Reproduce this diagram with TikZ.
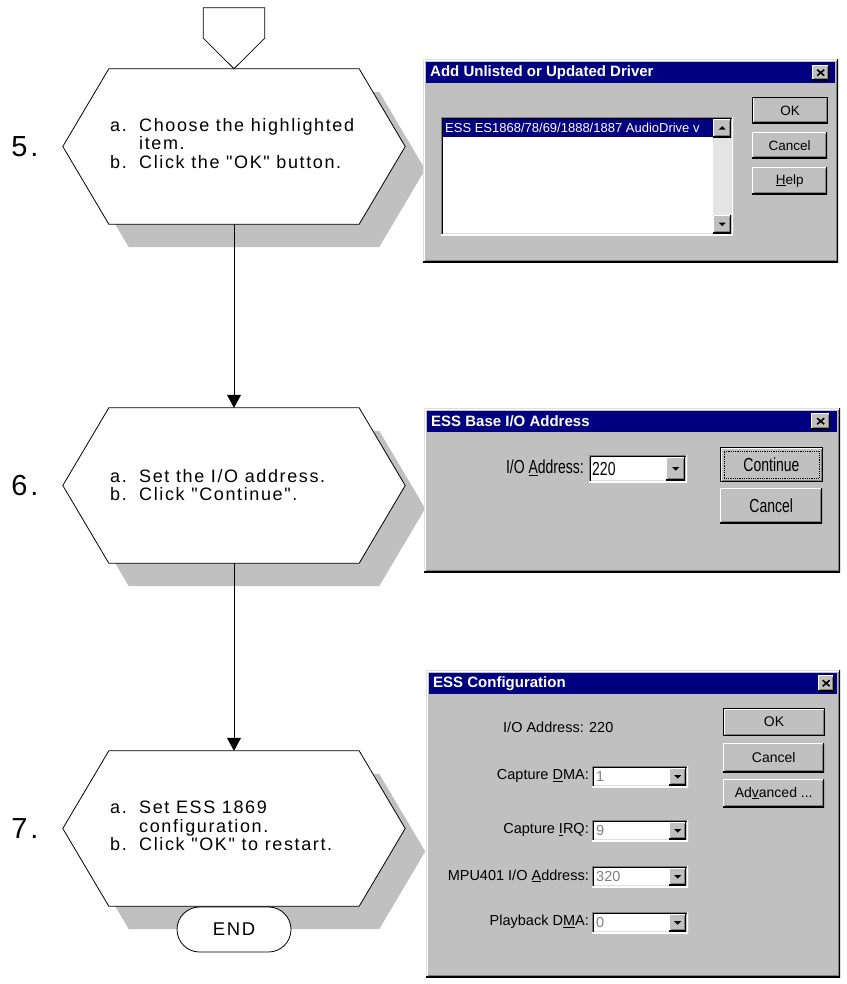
\documentclass[tikz,border=0pt]{standalone}
\usepackage{fontspec}
\usepackage{graphicx}
\usetikzlibrary{shapes.misc,arrows.meta,positioning}
\setmainfont{Liberation Sans}
\newfontfamily\flowfont[LetterSpace=9]{Liberation Sans}
\newfontfamily\numfont[LetterSpace=10]{Liberation Sans}
\newfontfamily\winfont{Liberation Sans}

\definecolor{wingray}{HTML}{C0C0C0}
\definecolor{windark}{HTML}{808080}
\definecolor{winlight}{HTML}{DFDFDF}
\definecolor{winnavy}{HTML}{000080}
\definecolor{wintrack}{HTML}{E4E4E4}
\definecolor{shadowgray}{HTML}{C0C0C0}

\newcommand{\stepline}[2]{\makebox[29pt][l]{#1}#2}
\newcommand{\tall}[1]{\scalebox{1}[1.35]{#1}}
\newcommand{\hexpath}[1]{(#1.west) -- ([xshift=46pt]#1.north west) -- ([xshift=-46pt]#1.north east) -- (#1.east) -- ([xshift=-46pt]#1.south east) -- ([xshift=46pt]#1.south west) -- cycle}

% 3D edges of window parts
\newcommand{\frameedges}{%
  \draw[winlight, line width=2pt] (path picture bounding box.south west) |- (path picture bounding box.north east);
  \draw[black, line width=2pt] (path picture bounding box.south west) -| (path picture bounding box.north east);
  \draw[white, line width=1pt] ([shift={(1.5pt,1.5pt)}]path picture bounding box.south west) |- ([shift={(-1.5pt,-1.5pt)}]path picture bounding box.north east);
  \draw[windark, line width=1pt] ([shift={(1.5pt,1.5pt)}]path picture bounding box.south west) -| ([shift={(-1.5pt,-1.5pt)}]path picture bounding box.north east);}
\newcommand{\btnedges}{%
  \draw[white, line width=2pt] (path picture bounding box.south west) |- (path picture bounding box.north east);
  \draw[black, line width=2pt] (path picture bounding box.south west) -| (path picture bounding box.north east);
  \draw[windark, line width=1pt] ([shift={(1.5pt,1.5pt)}]path picture bounding box.south west) -| ([shift={(-1.5pt,-1.5pt)}]path picture bounding box.north east);}
\newcommand{\fieldedges}{%
  \draw[windark, line width=2pt] (path picture bounding box.south west) |- (path picture bounding box.north east);
  \draw[white, line width=2pt] (path picture bounding box.south west) -| (path picture bounding box.north east);
  \draw[black, line width=1pt] ([shift={(1.5pt,1.5pt)}]path picture bounding box.south west) |- ([shift={(-1.5pt,-1.5pt)}]path picture bounding box.north east);
  \draw[winlight, line width=1pt] ([shift={(1.5pt,1.5pt)}]path picture bounding box.south west) -| ([shift={(-1.5pt,-1.5pt)}]path picture bounding box.north east);}
\newcommand{\downtip}{%
  \fill[black] ([shift={(-3.5pt,1.5pt)}]path picture bounding box.center) -- ([shift={(3.5pt,1.5pt)}]path picture bounding box.center) -- ([shift={(0pt,-2pt)}]path picture bounding box.center) -- cycle;}
\newcommand{\uptip}{%
  \fill[black] ([shift={(-3.5pt,-1.5pt)}]path picture bounding box.center) -- ([shift={(3.5pt,-1.5pt)}]path picture bounding box.center) -- ([shift={(0pt,2pt)}]path picture bounding box.center) -- cycle;}
\newcommand{\closecross}{%
  \draw[black, line width=1.6pt] ([shift={(-3.5pt,-3pt)}]path picture bounding box.center) -- ([shift={(3.5pt,3pt)}]path picture bounding box.center)
    ([shift={(-3.5pt,3pt)}]path picture bounding box.center) -- ([shift={(3.5pt,-3pt)}]path picture bounding box.center);}

\begin{document}
\begin{tikzpicture}[x=1pt, y=-1pt,
    hexbox/.style={rectangle, minimum width=342pt, minimum height=155pt, inner sep=0pt},
    hexline/.style={draw=black, line width=0.8pt, fill=white},
    steptext/.style={align=left, inner sep=0pt, anchor=west, font=\flowfont\fontsize{18pt}{18.5pt}\selectfont},
    stepnum/.style={inner sep=0pt, font=\numfont\fontsize{29pt}{29pt}\selectfont},
    flowarrow/.style={-{Triangle[length=13pt,width=14pt]}, line width=0.8pt},
    endbox/.style={rounded rectangle, draw=black, line width=0.8pt, fill=white, minimum width=114pt, minimum height=45pt, inner sep=0pt, font=\flowfont\fontsize{18.5pt}{18.5pt}\selectfont},
    winframe/.style={rectangle, anchor=north west, inner sep=0pt, fill=wingray, path picture={\frameedges}},
    wintitle/.style={rectangle, anchor=north west, inner sep=0pt, fill=winnavy},
    titletext/.style={anchor=west, inner sep=0pt, text=white, font=\winfont\bfseries\fontsize{15pt}{15pt}\selectfont},
    winbtn/.style={rectangle, anchor=north west, inner sep=0pt, fill=wingray, path picture={\btnedges}},
    winbtndef/.style={winbtn, draw=black, line width=1pt},
    winfield/.style={rectangle, anchor=north west, inner sep=0pt, fill=white, path picture={\fieldedges}},
    ddbtn/.style={winbtn, path picture={\btnedges\downtip}},
    upbtn/.style={winbtn, path picture={\btnedges\uptip}},
    xbtn/.style={winbtn, path picture={\btnedges\closecross}},
    wintext/.style={inner sep=0pt, font=\winfont\fontsize{14.5pt}{14.5pt}\selectfont},
    winvalue/.style={wintext, anchor=west, text=windark}
]
\useasboundingbox (0,0) rectangle (846,984);

% Flow boxes
\node[hexbox] (s5) at (234,146.5) {};
\node[hexbox] (s6) at (234,485.5) {};
\node[hexbox] (s7) at (234,828.5) {};
\node[rectangle, minimum width=61pt, minimum height=30pt, inner sep=0pt] (start) at (234,23) {};

% Shadows
\begin{scope}[transform canvas={shift={(20pt,-23pt)}}]
\fill[shadowgray] \hexpath{s5};
\fill[shadowgray] \hexpath{s6};
\fill[shadowgray] \hexpath{s7};
\end{scope}

\path[hexline] \hexpath{s5};
\path[hexline] \hexpath{s6};
\path[hexline] \hexpath{s7};
\path[hexline] (start.south west) -- (start.north west) -- (start.north east) -- (start.south east) -- (s5.north) -- cycle;

% Step texts
\node[stepnum] (n5) at (25,146.5) {5.};
\node[stepnum] (n6) at (25,485.5) {6.};
\node[stepnum] (n7) at (25,828.5) {7.};
\node[steptext] (t5) at (110,143.5) {\stepline{a.}{Choose the highlighted}\\ \stepline{}{item.}\\ \stepline{b.}{Click the "OK" button.}};
\node[steptext] (t6) at (110,485) {\stepline{a.}{Set the I/O address.}\\ \stepline{b.}{Click "Continue".}};
\node[steptext] (t7) at (110,826) {\stepline{a.}{Set ESS 1869}\\ \stepline{}{configuration.}\\ \stepline{b.}{Click "OK" to restart.}};

% Connections
\draw[flowarrow] (s5.south) -- (s6.north);
\draw[flowarrow] (s6.south) -- (s7.north);
\node[endbox] (end) at (234,929.5) {END};

% Dialog: Add Unlisted or Updated Driver
\node[winframe, minimum width=415pt, minimum height=203pt] (dlg1) at (423,59) {};
\node[wintitle, minimum width=409pt, minimum height=21pt] (bar1) at (426,62) {};
\node[titletext] (ttl1) at (430,72.5) {Add Unlisted or Updated Driver};
\node[xbtn, minimum width=17pt, minimum height=15pt] (close1) at (812,65) {};
\node[winfield, minimum width=292pt, minimum height=118pt] (list1) at (441,117) {};
\node[anchor=north west, inner sep=0pt, fill=winnavy, minimum width=270pt, minimum height=18pt] (sel1) at (443,119) {};
\node[anchor=west, inner sep=0pt, text=white, font=\winfont\fontsize{13pt}{13pt}\selectfont] (item1) at (445,128) {ESS ES1868/78/69/1888/1887 AudioDrive v};
\node[anchor=north west, inner sep=0pt, fill=wintrack, minimum width=18pt, minimum height=96pt] (track1) at (713,119) {};
\node[upbtn, minimum width=18pt, minimum height=18pt] (up1) at (713,119) {};
\node[ddbtn, minimum width=18pt, minimum height=18pt] (down1) at (713,215) {};
\node[winbtndef, minimum width=75pt, minimum height=26pt, font=\winfont\fontsize{13.5pt}{13.5pt}\selectfont] (ok1) at (752,97) {OK};
\node[winbtn, minimum width=75pt, minimum height=26pt, font=\winfont\fontsize{13.5pt}{13.5pt}\selectfont] (cancel1) at (752,132) {Cancel};
\node[winbtn, minimum width=75pt, minimum height=27pt, font=\winfont\fontsize{13.5pt}{13.5pt}\selectfont] (help1) at (752,167) {\underline{H}elp};

% Dialog: ESS Base I/O Address
\node[winframe, minimum width=416pt, minimum height=164pt] (dlg2) at (424,408) {};
\node[wintitle, minimum width=410pt, minimum height=21pt] (bar2) at (427,411) {};
\node[titletext] (ttl2) at (431,421.5) {ESS Base I/O Address};
\node[xbtn, minimum width=19pt, minimum height=16pt] (close2) at (811,413) {};
\node[wintext, anchor=east, font=\winfont\fontsize{14pt}{14pt}\selectfont] (iolab2) at (584,468) {\tall{I/O \underline{A}ddress:}};
\node[winfield, minimum width=98pt, minimum height=27pt] (combo2) at (589,455) {};
\node[wintext, anchor=west, font=\winfont\fontsize{14pt}{14pt}\selectfont] (ioval2) at (592,468.5) {\tall{220}};
\node[ddbtn, minimum width=19pt, minimum height=23pt] (dd2) at (666,457) {};
\node[winbtndef, minimum width=102pt, minimum height=34pt, font=\winfont\fontsize{14pt}{14pt}\selectfont] (cont2) at (720,447) {\tall{Continue}};
\draw[densely dotted, line width=0.8pt] ([shift={(4pt,4pt)}]cont2.south west) rectangle ([shift={(-4pt,-4pt)}]cont2.north east);
\node[winbtn, minimum width=102pt, minimum height=35pt, font=\winfont\fontsize{14pt}{14pt}\selectfont] (cancel2) at (720,488) {\tall{Cancel}};

% Dialog: ESS Configuration
\node[winframe, minimum width=414pt, minimum height=307pt] (dlg3) at (426,670) {};
\node[wintitle, minimum width=408pt, minimum height=21pt] (bar3) at (429,673) {};
\node[titletext] (ttl3) at (433,683.5) {ESS Configuration};
\node[xbtn, minimum width=16pt, minimum height=16pt] (close3) at (818,675) {};
\node[wintext, anchor=west] (io3) at (503,727) {I/O Address: 220};
\node[winbtndef, minimum width=101pt, minimum height=27pt, font=\winfont\fontsize{14pt}{14pt}\selectfont] (ok3) at (723,708) {OK};
\node[winbtn, minimum width=101pt, minimum height=29pt, font=\winfont\fontsize{14pt}{14pt}\selectfont] (cancel3) at (723,743) {Cancel};
\node[winbtn, minimum width=101pt, minimum height=28pt, font=\winfont\fontsize{14pt}{14pt}\selectfont] (adv3) at (723,779) {Ad\underline{v}anced ...};

\node[wintext, anchor=east] (dmalab3) at (589,776) {Capture \underline{D}MA:};
\node[winfield, minimum width=96pt, minimum height=21pt] (dma3) at (592,766) {};
\node[winvalue] (dmaval3) at (596,776.5) {1};
\node[ddbtn, minimum width=17pt, minimum height=17pt] (dmadd3) at (669,768) {};

\node[wintext, anchor=east] (irqlab3) at (589,830) {Capture \underline{I}RQ:};
\node[winfield, minimum width=96pt, minimum height=21pt] (irq3) at (592,820) {};
\node[winvalue] (irqval3) at (596,830.5) {9};
\node[ddbtn, minimum width=17pt, minimum height=17pt] (irqdd3) at (669,822) {};

\node[wintext, anchor=east] (mpulab3) at (589,876) {MPU401 I/O \underline{A}ddress:};
\node[winfield, minimum width=96pt, minimum height=21pt] (mpu3) at (592,866) {};
\node[winvalue] (mpuval3) at (596,876.5) {320};
\node[ddbtn, minimum width=17pt, minimum height=17pt] (mpudd3) at (669,868) {};

\node[wintext, anchor=east] (pblab3) at (589,922) {Playback D\underline{M}A:};
\node[winfield, minimum width=96pt, minimum height=21pt] (pb3) at (592,912) {};
\node[winvalue] (pbval3) at (596,922.5) {0};
\node[ddbtn, minimum width=17pt, minimum height=17pt] (pbdd3) at (669,914) {};

\end{tikzpicture}
\end{document}
